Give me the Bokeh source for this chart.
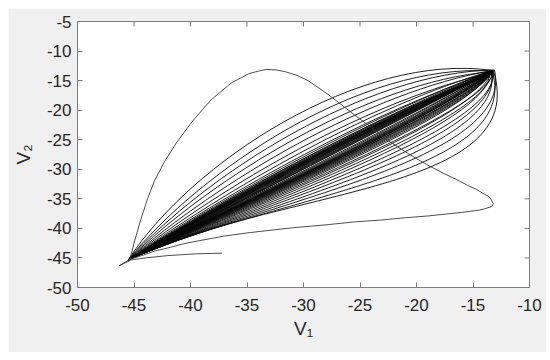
from bokeh.plotting import figure
from bokeh.models import Range1d, FixedTicker, ColumnDataSource
from bokeh.embed import file_html
from bokeh.resources import INLINE
import math

# ---------------- data ----------------
x_ticks = [-50, -45, -40, -35, -30, -25, -20, -15, -10]
x_tick_labels = ["-50", "-45", "-40", "-35", "-30", "-25", "-20", "-15", "-10"]
y_ticks = [-50, -45, -40, -35, -30, -25, -20, -15, -10, -5]
y_tick_labels = ["-50", "-45", "-40", "-35", "-30", "-25", "-20", "-15", "-10", "-5"]
x_label = "V\u2081"
y_label = "V\u2082"

# transient: start tail, big arc, return along the bottom
trans_x = [-37.2, -39.5, -42.0, -44.0, -45.5, -46.3, -45.4,
           -45.0, -44.4, -43.8, -43.2, -42.3, -41.2, -39.8, -38.2, -37.2, -36.4, -35.5, -34.8,
           -34.0, -33.3, -32.4, -31.6, -30.6, -29.6, -28.6, -27.5, -26.3, -25.0, -23.6, -22.3,
           -21.1, -20.0, -18.8, -17.6, -16.5, -15.5, -14.7, -14.1, -13.6, -13.4, -13.2, -13.3,
           -13.5, -14.0, -14.4, -15.2, -16.0, -17.5, -19.0, -21.0, -23.2, -25.5, -28.0, -31.0,
           -34.7, -37.0, -39.0, -40.6, -42.0, -43.1, -44.0, -44.8, -45.5]
trans_y = [-44.2, -44.3, -44.6, -45.0, -45.4, -46.3, -45.5,
           -42.5, -38.5, -35.0, -32.0, -28.7, -25.4, -21.8, -18.3, -16.7, -15.4, -14.5, -13.8,
           -13.4, -13.1, -13.2, -13.5, -14.1, -15.0, -16.3, -17.8, -19.6, -21.5, -23.5, -25.4,
           -26.9, -28.2, -29.5, -30.7, -31.7, -32.7, -33.4, -34.1, -34.6, -35.1, -35.8, -36.2,
           -36.4, -36.7, -36.9, -37.1, -37.3, -37.6, -37.9, -38.2, -38.6, -38.9, -39.4, -39.9,
           -40.7, -41.3, -42.0, -42.6, -43.3, -43.8, -44.4, -44.9, -45.3]

# loops: common left corner, individual right tips
corner_x = -45.5
corner_y = -45.3
tip_x = [-13.2, -13.3, -13.1, -13.4, -13.3, -13.2, -13.5, -13.3, -13.4, -13.2,
         -13.6, -13.3, -13.4, -13.5, -13.3, -13.2, -13.4, -13.6, -13.3, -13.5,
         -13.4, -13.3, -13.5, -13.4, -13.2, -13.6, -13.3, -13.5]
tip_y = [-13.3, -13.4, -13.2, -13.5, -13.3, -13.6, -13.4, -13.5, -13.3, -13.7,
         -13.5, -13.4, -13.6, -13.8, -13.5, -13.4, -13.7, -13.6, -13.5, -13.9,
         -13.6, -13.7, -13.8, -13.6, -13.4, -13.7, -13.5, -13.6]

# upper branch (corner -> tip) control points
up_c1x = [-40.0, -39.2, -38.7, -38.2, -37.6, -37.0, -36.5, -36.1,
          -35.8, -35.6, -35.5, -35.4, -35.3, -35.3, -35.2, -35.2, -35.1, -35.1,
          -35.0, -35.0, -35.0, -34.9, -34.9, -34.9, -34.8, -34.8, -34.8, -34.7]
up_c1y = [-29.0, -30.3, -31.0, -31.6, -32.2, -32.6, -33.0, -33.2,
          -33.3, -33.4, -33.4, -33.5, -33.5, -33.6, -33.6, -33.7, -33.7, -33.8,
          -33.8, -33.9, -34.0, -34.0, -34.1, -34.2, -34.3, -34.4, -34.5, -34.6]
up_c2x = [-25.0, -24.8, -24.5, -24.3, -24.2, -24.1, -24.0, -24.0,
          -24.0, -24.0, -24.0, -24.0, -24.0, -24.0, -24.0, -24.0, -24.0, -24.0,
          -24.0, -24.0, -24.0, -24.0, -24.0, -24.0, -24.0, -24.0, -24.0, -24.0]
up_c2y = [-10.0, -11.8, -13.5, -15.2, -16.8, -18.2, -19.4, -20.4,
          -21.0, -21.3, -21.6, -21.8, -22.0, -22.1, -22.2, -22.3, -22.4, -22.5,
          -22.6, -22.7, -22.8, -22.9, -23.0, -23.2, -23.4, -23.6, -23.8, -24.0]

# lower branch (tip -> corner) control points
lo_c1x = [-9.8, -10.5, -11.2, -11.8, -12.3, -12.8, -13.1, -13.4,
          -13.7, -14.0, -14.3, -14.6, -14.9, -15.2, -15.5, -15.9, -16.3, -16.8,
          -17.3, -17.8, -18.4, -19.0, -19.7, -20.4, -21.2, -22.0, -22.9, -23.8]
lo_c1y = [-34.0, -31.0, -28.5, -26.6, -25.0, -23.6, -22.5, -21.6,
          -20.9, -20.4, -20.0, -19.7, -19.5, -19.4, -19.4, -19.5, -19.7, -20.0,
          -20.3, -20.7, -21.1, -21.5, -22.0, -22.5, -23.0, -23.4, -23.8, -24.1]
lo_c2x = [-32.0, -33.0, -33.6, -34.0, -34.3, -34.5, -34.6, -34.7,
          -34.7, -34.8, -34.8, -34.8, -34.8, -34.8, -34.8, -34.8, -34.8, -34.8,
          -34.8, -34.8, -34.8, -34.8, -34.8, -34.8, -34.8, -34.8, -34.8, -34.8]
lo_c2y = [-33.0, -34.5, -35.4, -35.9, -36.2, -36.4, -36.4, -36.3,
          -36.2, -36.1, -36.0, -35.9, -35.8, -35.7, -35.6, -35.5, -35.4, -35.3,
          -35.2, -35.1, -35.0, -34.95, -34.9, -34.85, -34.8, -34.75, -34.7, -34.6]

# ---------------- figure ----------------
AX = "#7d7d7d"
TXT = "#262626"
FONT = "Liberation Sans"
X0, X1, Y0, Y1 = -50, -10, -50, -5

p = figure(width=538, height=344, output_backend="svg", toolbar_location=None,
           x_range=Range1d(X0, X1), y_range=Range1d(Y0, Y1),
           min_border_left=69, min_border_right=17, min_border_top=13, min_border_bottom=65,
           border_fill_color="#f0f0f0", background_fill_color="white")
p.margin = (8, 8, 8, 8)
p.grid.visible = False
p.outline_line_color = AX
p.outline_line_width = 1


def style(ax, ticks, labels, label):
    ax.ticker = FixedTicker(ticks=ticks)
    ax.major_label_overrides = {t: s for t, s in zip(ticks, labels)}
    ax.axis_line_color = AX
    ax.major_tick_line_color = AX
    ax.major_tick_in = 5
    ax.major_tick_out = 0
    ax.minor_tick_in = 0
    ax.minor_tick_out = 0
    ax.major_label_text_font = FONT
    ax.major_label_text_color = TXT
    ax.major_label_text_font_size = "17px"
    ax.axis_label = label
    ax.axis_label_text_font = FONT
    ax.axis_label_text_font_size = "19px"
    ax.axis_label_text_font_style = "normal"
    ax.axis_label_text_color = TXT


style(p.xaxis[0], x_ticks, x_tick_labels, x_label)
style(p.yaxis[0], y_ticks, y_tick_labels, y_label)
p.xaxis[0].major_label_standoff = 11
p.xaxis[0].axis_label_standoff = 4
p.yaxis[0].major_label_standoff = 6
p.yaxis[0].axis_label_standoff = 10

# mirrored ticks on top and right (half of each dash is clipped by the frame)
p.scatter(x_ticks, [Y1] * len(x_ticks), marker="dash", angle=math.pi / 2, size=10,
          line_color=AX, line_width=1)
p.scatter([X1] * len(y_ticks), y_ticks, marker="dash", size=10, line_color=AX, line_width=1)

# loops
n = len(tip_x)
up = ColumnDataSource(dict(x0=[corner_x] * n, y0=[corner_y] * n, x1=tip_x, y1=tip_y,
                           cx0=up_c1x, cy0=up_c1y, cx1=up_c2x, cy1=up_c2y))
lo = ColumnDataSource(dict(x0=tip_x, y0=tip_y, x1=[corner_x] * n, y1=[corner_y] * n,
                           cx0=lo_c1x, cy0=lo_c1y, cx1=lo_c2x, cy1=lo_c2y))
p.bezier(x0="x0", y0="y0", x1="x1", y1="y1", cx0="cx0", cy0="cy0", cx1="cx1", cy1="cy1",
         source=up, line_color="#0a0a0a", line_width=1.0, line_alpha=0.9)
p.bezier(x0="x0", y0="y0", x1="x1", y1="y1", cx0="cx0", cy0="cy0", cx1="cx1", cy1="cy1",
         source=lo, line_color="#0a0a0a", line_width=1.0, line_alpha=0.9)

# transient
p.line(trans_x, trans_y, line_color="#3a3a3a", line_width=0.9)

open("out.html", "w").write(file_html(p, INLINE))
